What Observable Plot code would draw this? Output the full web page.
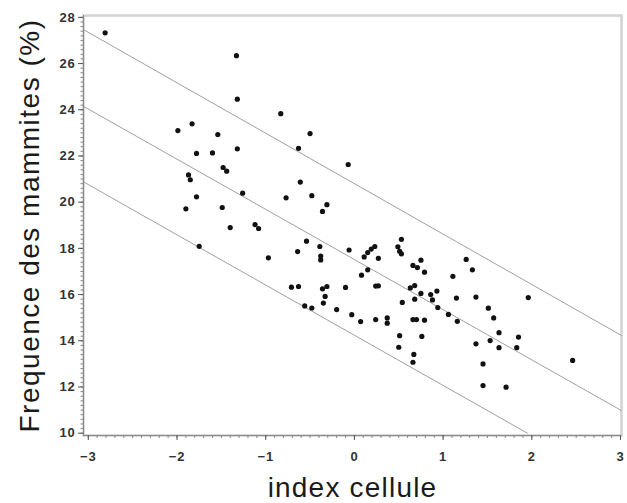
<!DOCTYPE html>
<html>
<head>
<meta charset="utf-8">
<script src="https://cdn.jsdelivr.net/npm/d3@7"></script>
<script src="https://cdn.jsdelivr.net/npm/@observablehq/plot@0.6"></script>
<style>
  html, body { margin: 0; padding: 0; background: #fff; }
  svg { display: block; }
</style>
</head>
<body>
<div id="chart"></div>
<script>
// index cellule (x) and frequence des mammites % (y)
const xs = [-2.81,-1.33,-1.32,-0.83,-1.99,-1.83,-1.54,-0.50,-1.78,-1.60,-1.32,-0.63,-1.87,-1.85,-1.48,-1.44,-0.61,-1.26,-1.78,-0.77,-0.48,-1.90,-1.49,-0.31,-0.36,-1.40,-1.12,-1.08,-0.54,-0.64,-0.97,-1.75,-0.39,-0.38,-0.38,-0.07,-0.06,0.11,0.15,0.19,0.23,0.27,0.53,0.49,0.51,0.53,0.15,0.08,0.75,0.66,0.71,0.79,1.26,1.33,1.11,-0.71,-0.63,-0.36,-0.31,-0.10,0.24,0.27,0.63,0.68,-0.33,-0.35,-0.56,-0.48,-0.20,-0.03,0.07,0.24,0.37,0.37,0.68,0.54,0.75,0.86,0.93,0.88,0.94,0.66,0.70,0.79,0.51,0.76,0.50,0.67,0.66,1.15,1.37,1.96,1.51,1.57,1.06,1.16,1.63,1.85,1.53,1.37,1.63,1.83,1.45,2.46,1.45,1.71];
const ys = [27.33,26.34,24.46,23.83,23.10,23.39,22.93,22.97,22.11,22.13,22.31,22.33,21.18,20.97,21.50,21.34,20.87,20.39,20.23,20.19,20.28,19.71,19.77,19.89,19.60,18.90,19.03,18.86,18.31,17.86,17.59,18.09,18.08,17.67,17.50,21.63,17.93,17.63,17.82,17.97,18.08,17.57,18.39,18.07,17.87,17.76,17.07,16.84,17.49,17.26,17.17,16.97,17.52,17.07,16.79,16.32,16.35,16.25,16.35,16.31,16.37,16.38,16.29,16.39,15.92,15.63,15.51,15.42,15.35,15.13,14.83,14.92,14.99,14.76,15.80,15.66,16.05,16.00,16.15,15.77,15.44,14.92,14.92,14.89,14.22,14.19,13.72,13.41,13.07,15.85,15.89,15.87,15.41,14.99,15.14,14.84,14.35,14.16,14.01,13.87,13.70,13.70,13.00,13.15,12.06,11.99];

// the three parallel lines (fit and band), endpoints
const lineLabels = ["haut", "milieu", "bas"];
const lineXStart = [-3.05, -3.05, -3.05];
const lineXEnd   = [3.01, 3.01, 1.95];
const lineYStart = [27.46, 24.14, 20.87];
const lineYEnd   = [14.23, 10.98, 10.0];

const xTicks = [-3, -2, -1, 0, 1, 2, 3];
const yTicks = [10, 12, 14, 16, 18, 20, 22, 24, 26, 28];
const xLabel = "index cellule";
const yLabel = "Frequence des mammites (%)";

const points = xs.map((x, i) => ({x, y: ys[i]}));
const segs = [];
lineLabels.forEach((k, i) => {
  segs.push({k, x: lineXStart[i], y: lineYStart[i]});
  segs.push({k, x: lineXEnd[i], y: lineYEnd[i]});
});

const xMinor = d3.range(-30, 31).map(i => i / 10);
const yMinor = d3.range(50, 141).map(i => i / 5);
const X0 = -3.054, X1 = 3.011, Y0 = 9.9, Y1 = 28.08;
const font = "'Liberation Sans', Arial, Helvetica, sans-serif";

const chart = Plot.plot({
  width: 627,
  height: 503,
  marginLeft: 83,
  marginRight: 6,
  marginTop: 15,
  marginBottom: 68,
  style: {fontFamily: font, background: "#fff", color: "#222"},
  x: {domain: [X0, X1], label: null},
  y: {domain: [Y0, Y1], label: null},
  marks: [
    Plot.frame({stroke: "#d2d2d2", strokeWidth: 2.5}),
    Plot.line(segs, {x: "x", y: "y", z: "k", stroke: "#a0a0a0", strokeWidth: 1}),
    Plot.dot(points, {x: "x", y: "y", r: 2.6, fill: "#111", stroke: "none"}),
    Plot.ruleX([X0], {stroke: "#8a8a8a", strokeWidth: 1}),
    Plot.ruleY([Y0], {stroke: "#8a8a8a", strokeWidth: 1}),
    Plot.axisX({ticks: xMinor, tickSize: 3, tickFormat: () => "", stroke: "#888", label: null}),
    Plot.axisY({ticks: yMinor, tickSize: 2.5, tickFormat: () => "", stroke: "#888", label: null}),
    Plot.axisX({ticks: xTicks, tickSize: 5, tickPadding: 11, stroke: "#555", fill: "#333",
      fontSize: 13, fontWeight: "bold", label: null,
      tickFormat: d => d < 0 ? "\u2212" + Math.abs(d) : String(d)}),
    Plot.axisY({ticks: yTicks, tickSize: 5, tickPadding: 3, stroke: "#555", fill: "#333",
      fontSize: 13, fontWeight: "bold", label: null}),
    Plot.text([xLabel], {frameAnchor: "bottom", textAnchor: "middle", dy: 53, fontSize: 28,
      fill: "#1a1a1a", lineAnchor: "middle", text: d => d}),
    Plot.text([yLabel], {frameAnchor: "left", textAnchor: "middle", dx: -53, rotate: -90,
      fontSize: 28, fill: "#1a1a1a", lineAnchor: "middle", text: d => d})
  ]
});

d3.select(chart).selectAll("text").each(function() {
  const t = this.textContent;
  if (t === xLabel) this.setAttribute("letter-spacing", "1.2px");
  if (t === yLabel) this.setAttribute("letter-spacing", "1.5px");
  if (/^[\u22120-9]+$/.test(t)) this.setAttribute("letter-spacing", "0.8px");
});

document.getElementById("chart").appendChild(chart);
</script>
</body>
</html>
